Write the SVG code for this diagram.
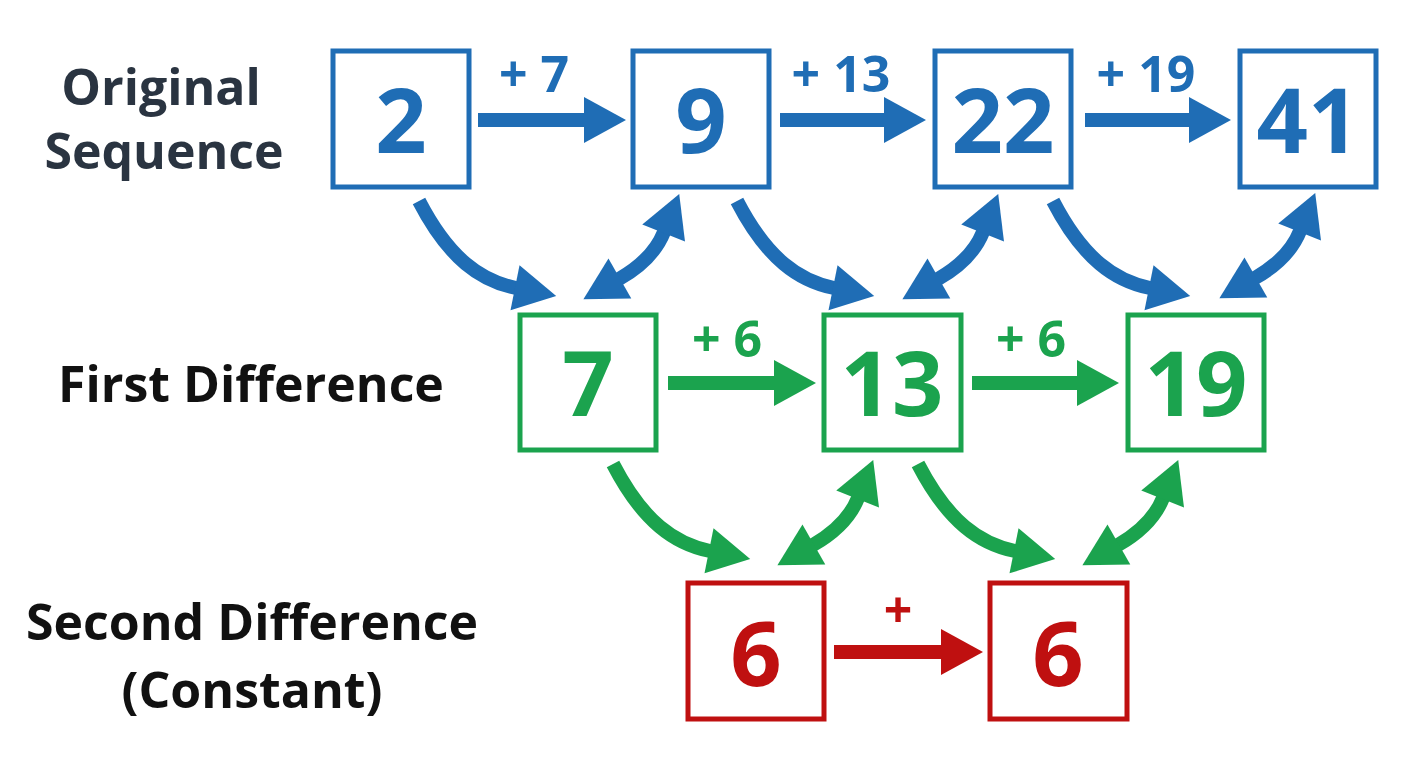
<svg xmlns="http://www.w3.org/2000/svg" width="1408" height="768" viewBox="0 0 1408 768">
<style>
.box{fill:#fff;stroke-width:5}
.b{stroke:#1f6db5}.g{stroke:#1ba34e}.r{stroke:#bf1010}
.num{font-family:"Open Sans","Liberation Sans",sans-serif;font-weight:700;font-size:90px;text-anchor:middle}
.bt{fill:#1f6db5}.gt{fill:#1ba34e}.rt{fill:#bf1010}
.lbl{font-family:"Open Sans","Liberation Sans",sans-serif;font-weight:700;font-size:50px}
.op{font-family:"Open Sans","Liberation Sans",sans-serif;font-weight:700;font-size:50px;text-anchor:middle}
.sh{fill:none;stroke-width:14}
.st{fill:none;stroke-width:14}
</style>
<defs>
<marker id="hb" markerUnits="userSpaceOnUse" markerWidth="44" markerHeight="48" refX="1" refY="24" orient="auto-start-reverse" viewBox="0 0 44 48" overflow="visible"><path d="M0,1 L42,24 L0,47 z" fill="#1f6db5"/></marker>
<marker id="hg" markerUnits="userSpaceOnUse" markerWidth="44" markerHeight="48" refX="1" refY="24" orient="auto-start-reverse" viewBox="0 0 44 48" overflow="visible"><path d="M0,1 L42,24 L0,47 z" fill="#1ba34e"/></marker>
<marker id="hr" markerUnits="userSpaceOnUse" markerWidth="44" markerHeight="48" refX="1" refY="24" orient="auto-start-reverse" viewBox="0 0 44 48" overflow="visible"><path d="M0,1 L42,24 L0,47 z" fill="#bf1010"/></marker>
<path id="cv" d="M0,0 C30,58 62,80 97,87"/>
<path id="dv" d="M35,-18 C56,-30 72,-45 80,-65"/>
</defs>
<rect width="1408" height="768" fill="#fff"/>

<g id="labels">
<text class="lbl" x="161" y="105" text-anchor="middle" fill="#2a3441">Original</text>
<text class="lbl" x="164" y="169" text-anchor="middle" fill="#2a3441">Sequence</text>
<text class="lbl" x="251" y="402" text-anchor="middle" fill="#111" font-size="48">First Difference</text>
<text class="lbl" x="252" y="640" text-anchor="middle" fill="#111" font-size="53">Second Difference</text>
<text class="lbl" x="252" y="708" text-anchor="middle" fill="#111" font-size="53">(Constant)</text>
</g>

<g id="connectors">
<g stroke="#1f6db5">
<line class="st" x1="478" y1="120" x2="585" y2="120" marker-end="url(#hb)"/>
<line class="st" x1="780" y1="120" x2="885" y2="120" marker-end="url(#hb)"/>
<line class="st" x1="1085" y1="120" x2="1190" y2="120" marker-end="url(#hb)"/>
<use href="#cv" class="sh" transform="translate(419,201)" marker-end="url(#hb)"/>
<use href="#cv" class="sh" transform="translate(737,201)" marker-end="url(#hb)"/>
<use href="#cv" class="sh" transform="translate(1053,201)" marker-end="url(#hb)"/>
<use href="#dv" class="sh" transform="translate(584,297)" marker-start="url(#hb)" marker-end="url(#hb)"/>
<use href="#dv" class="sh" transform="translate(903,297)" marker-start="url(#hb)" marker-end="url(#hb)"/>
<use href="#dv" class="sh" transform="translate(1220,296)" marker-start="url(#hb)" marker-end="url(#hb)"/>
</g>
<g stroke="#1ba34e">
<line class="st" x1="668" y1="383" x2="775" y2="383" marker-end="url(#hg)"/>
<line class="st" x1="972" y1="383" x2="1078" y2="383" marker-end="url(#hg)"/>
<use href="#cv" class="sh" transform="translate(613,464)" marker-end="url(#hg)"/>
<use href="#cv" class="sh" transform="translate(918,464)" marker-end="url(#hg)"/>
<use href="#dv" class="sh" transform="translate(778,563)" marker-start="url(#hg)" marker-end="url(#hg)"/>
<use href="#dv" class="sh" transform="translate(1083,563)" marker-start="url(#hg)" marker-end="url(#hg)"/>
</g>
<line class="st" stroke="#bf1010" x1="834" y1="652" x2="942" y2="652" marker-end="url(#hr)"/>
<text class="op bt" x="534" y="92">+ 7</text>
<text class="op bt" x="841" y="92">+ 13</text>
<text class="op bt" x="1146" y="92">+ 19</text>
<text class="op gt" x="727" y="357">+ 6</text>
<text class="op gt" x="1031" y="357">+ 6</text>
<text class="op rt" x="898" y="628">+</text>
</g>

<g id="n2"><rect class="box b" x="333" y="51" width="136" height="136"/><text class="num bt" x="401" y="153">2</text></g>
<g id="n9"><rect class="box b" x="633" y="51" width="136" height="136"/><text class="num bt" x="701" y="153">9</text></g>
<g id="n22"><rect class="box b" x="935" y="51" width="136" height="136"/><text class="num bt" x="1003" y="153">22</text></g>
<g id="n41"><rect class="box b" x="1240" y="51" width="136" height="136"/><text class="num bt" x="1308" y="153">41</text></g>

<g id="n7"><rect class="box g" x="520" y="315" width="136" height="135"/><text class="num gt" x="588" y="416">7</text></g>
<g id="n13"><rect class="box g" x="824" y="315" width="137" height="135"/><text class="num gt" x="892" y="416">13</text></g>
<g id="n19"><rect class="box g" x="1128" y="315" width="136" height="135"/><text class="num gt" x="1196" y="416">19</text></g>

<g id="n6a"><rect class="box r" x="688" y="583" width="136" height="136"/><text class="num rt" x="756" y="686">6</text></g>
<g id="n6b"><rect class="box r" x="990" y="583" width="137" height="136"/><text class="num rt" x="1058" y="686">6</text></g>
</svg>
